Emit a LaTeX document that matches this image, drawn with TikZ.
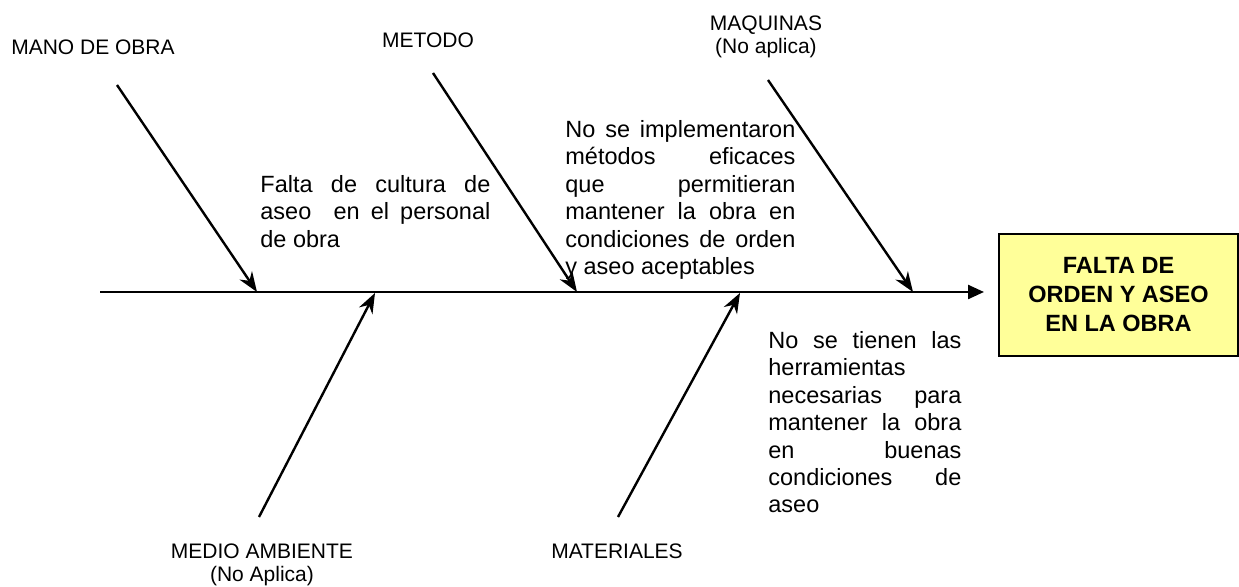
\documentclass[tikz,border=0pt]{standalone}
\usepackage{fontspec}
\setmainfont{Liberation Sans}
\usetikzlibrary{positioning,arrows.meta}
\definecolor{effectyellow}{HTML}{FFFF99}
\newcommand\loosepar{\tolerance=10000 \hbadness=10000\relax}

\begin{document}
\begin{tikzpicture} [
	x=0.5pt,y=-0.5pt,
	bone/.style={
		line width=1.2pt,-{Stealth[length=10pt,width=7.5pt]}
	},
	spine/.style={
		line width=1.2pt,-{Triangle[length=8pt,width=7pt]}
	},
	ncause/.style={
		inner sep=0pt,align=center,
		font=\fontsize{10.5}{11.5}\selectfont
	},
	ntext/.style={
		inner sep=0pt,anchor=north west,align=justify,
		font=\fontsize{11.75}{13.7}\selectfont
	},
	neffect/.style={
		rectangle,draw=black,line width=0.8pt,fill=effectyellow,
		minimum width=119.5pt,minimum height=61pt,align=center,
		font=\fontsize{11.75}{14.5}\selectfont\bfseries
	}
]
\useasboundingbox (0,0) rectangle (1239,587);
\coordinate (tail)		at (100,292);
\coordinate (head)		at (984,292);
\coordinate (manostart)		at (117,85);
\coordinate (manoend)		at (257,292);
\coordinate (metodostart)	at (433,73);
\coordinate (metodoend)		at (577,292);
\coordinate (maquinasstart)	at (768,80);
\coordinate (maquinasend)	at (913,292);
\coordinate (mediostart)	at (259,517);
\coordinate (medioend)		at (375,293);
\coordinate (materialesstart)	at (618,517);
\coordinate (materialesend)	at (740,293);
\node [neffect]	(efecto)	at (1118.5,295)	{FALTA DE\\ORDEN Y ASEO\\EN LA OBRA};
\node [ncause,anchor=base]	(mano)	at (93,55)	{MANO DE OBRA};
\node [ncause,anchor=base]	(metodo)	at (428,48)	{METODO};
\node [ncause,anchor=north]	(maquinas)	at (766,15)	{MAQUINAS\\(No aplica)};
\node [ncause,anchor=north]	(medio)	at (262,543)	{MEDIO AMBIENTE\\(No Aplica)};
\node [ncause,anchor=base]	(materiales)	at (617,559)	{MATERIALES};
\node [ntext,text width=115pt]	(cultura)	at (260,175)
	{\loosepar Falta de cultura de\linebreak aseo\ \ en el personal\linebreak de obra};
\node [ntext,text width=115pt]	(metodos)	at (565,120)
	{\loosepar No se implementaron\linebreak m\'etodos eficaces\linebreak que permitieran\linebreak mantener la obra en\linebreak condiciones de orden\linebreak y aseo aceptables};
\node [ntext,text width=96.5pt]	(herramientas)	at (768,331)
	{\loosepar No se tienen las\linebreak herramientas\linebreak necesarias para\linebreak mantener la obra\linebreak en buenas\linebreak condiciones de\linebreak aseo};
\draw [spine]	(tail) -- (head);
\draw [bone]	(manostart) -- (manoend);
\draw [bone]	(metodostart) -- (metodoend);
\draw [bone]	(maquinasstart) -- (maquinasend);
\draw [bone]	(mediostart) -- (medioend);
\draw [bone]	(materialesstart) -- (materialesend);
\end{tikzpicture}
\end{document}
